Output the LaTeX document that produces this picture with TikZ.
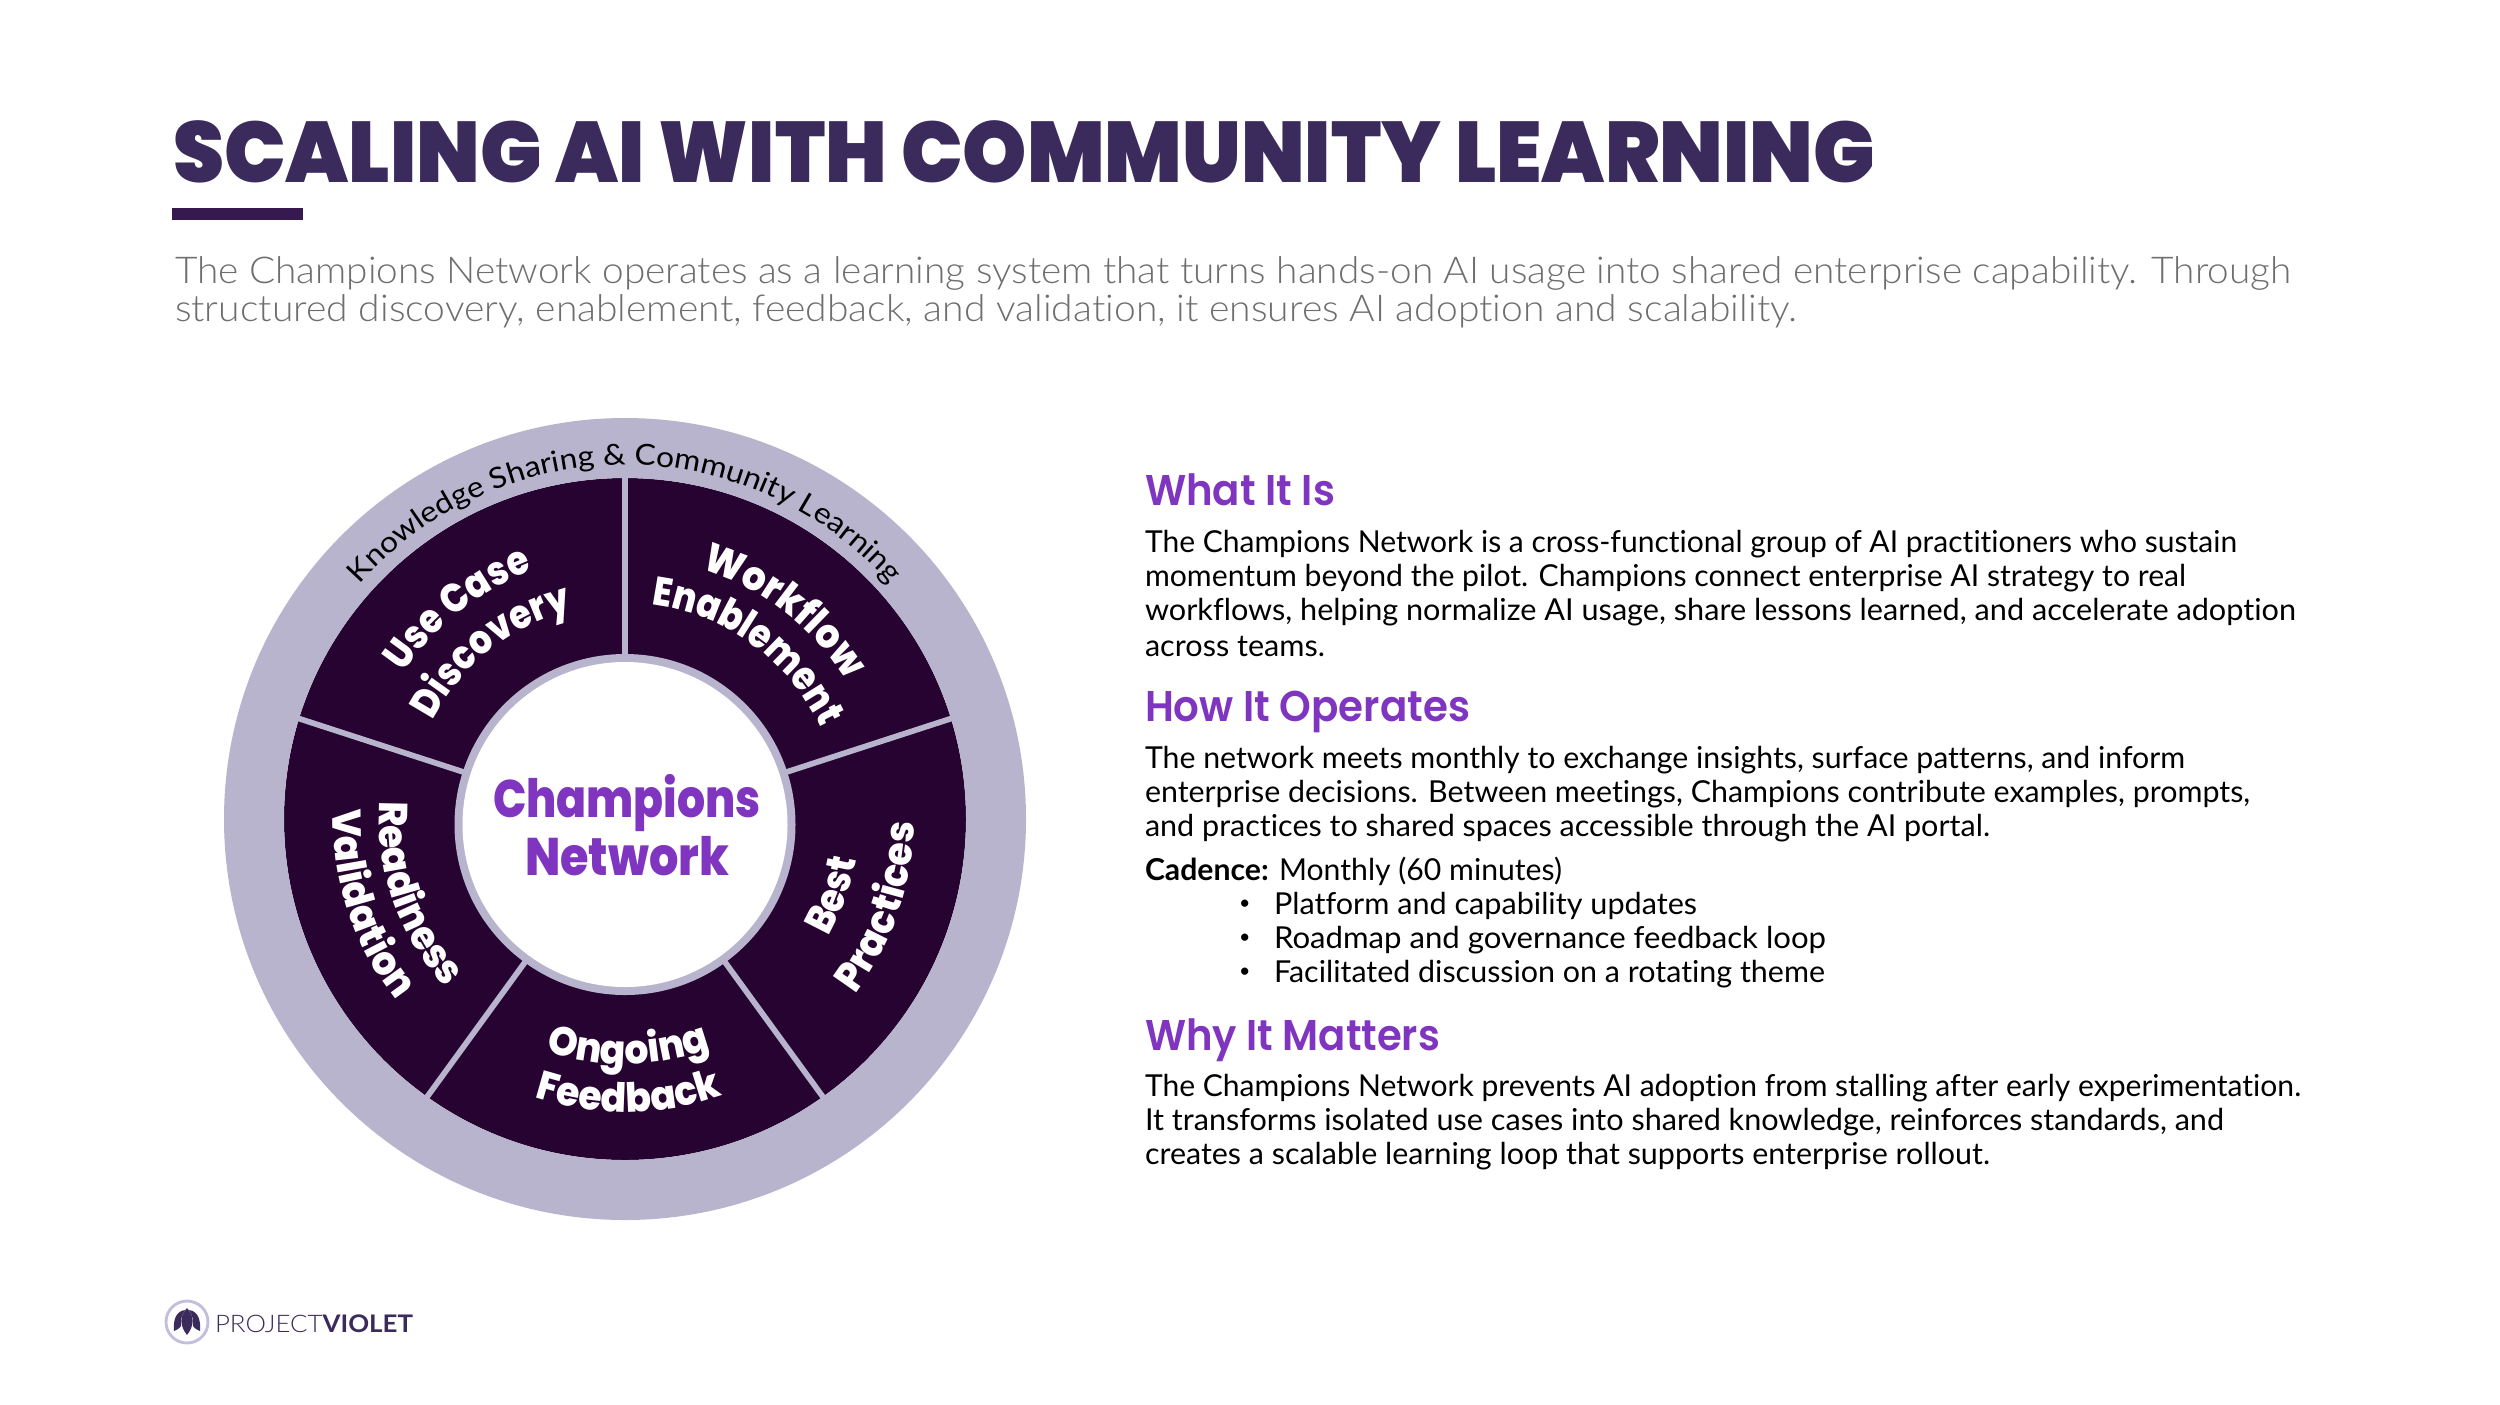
\documentclass[tikz,border=0pt]{standalone}
\usepackage{fontspec}
\usepackage{graphicx}
\usetikzlibrary{decorations.text}
\setmainfont[Ligatures=NoCommon]{Lato}
\newfontfamily\titlefont{Poppins Black}
\newfontfamily\centerfont{Poppins ExtraBold}
\newfontfamily\headfont{Poppins SemiBold}
\newfontfamily\lightfont[Ligatures=NoCommon]{Lato Light}
\newfontfamily\wheelfont{Poppins ExtraBold}
\newfontfamily\capfont[FakeStretch=1.1,Ligatures=NoCommon]{Lato}
\definecolor{titlec}{HTML}{3B2A5C}
\definecolor{barc}{HTML}{35194F}
\definecolor{ringc}{HTML}{B8B4CD}
\definecolor{darkc}{HTML}{260330}
\definecolor{purp}{HTML}{7F35BF}
\definecolor{greyc}{HTML}{6E6E6E}
\definecolor{logoc}{HTML}{C3BEDD}
\newsavebox{\fitbox}
\newcommand{\fitw}[2]{\sbox{\fitbox}{#2}\pgfmathsetmacro{\fitr}{#1*0.384/(\wd\fitbox/1pt)}\scalebox{\fitr}[1]{\usebox{\fitbox}}}
\newcommand{\wl}[1]{\wheelfont\fontsize{15.5}{17}\selectfont\addfontfeature{FakeStretch=#1}\color{white}}
\tikzset{
  line/.style={inner sep=0pt,outer sep=0pt,anchor=base west},
  wheeltext/.style={decorate,decoration={text along path,text align=center,text={#1}}},
}
\begin{document}
\begin{tikzpicture}[x=0.384pt,y=0.384pt]
\useasboundingbox (0,0) rectangle (2500,-1404);
\fill[white] (0,0) rectangle (2500,-1404);
% title
\node[line,text=titlec] (title) at (173,-182) {\fitw{1702}{\titlefont\fontsize{33}{38}\selectfont SCALING AI WITH COMMUNITY LEARNING}};
\fill[barc] (172,-208) rectangle (303,-220);
\node[line,text=greyc] (sub1) at (175,-283) {\fitw{2116}{\lightfont\fontsize{14.2}{17}\selectfont The Champions Network operates as a learning system that turns hands-on AI usage into shared enterprise capability. Through}};
\node[line,text=greyc] (sub2) at (175,-321) {\fitw{1622}{\lightfont\fontsize{14.2}{17}\selectfont structured discovery, enablement, feedback, and validation, it ensures AI adoption and scalability.}};
% wheel
\coordinate (c) at (625,-819);
\coordinate (ci) at (625,-824.5);
\fill[darkc] (c) circle[radius=341];
\foreach \a in {90,18,-54,-126,162}
  \draw[ringc,line width=2.2pt] (ci) -- ++(\a:356);
\path[even odd rule,fill=ringc] (c) circle[radius=401] (c) circle[radius=341];
\fill[ringc] (ci) circle[radius=170.5];
\fill[white] (ci) circle[radius=162.5];
\node[line,anchor=base,text=purp] (center1) at (627,-817) {\fitw{268}{\centerfont\fontsize{20.3}{24}\selectfont Champions}};
\node[line,anchor=base,text=purp] (center2) at (627,-875) {\fitw{204}{\centerfont\fontsize{20.3}{24}\selectfont Network}};
% ring caption
\path[wheeltext={|\capfont\fontsize{11.1}{13}\selectfont|Knowledge Sharing {\&} Community Learning}] (c) ++(150:354) arc[start angle=150,end angle=30,radius=354];
% labels
\path[wheeltext={|\wl{.88}|Use Case}] (c) ++(178.5:265) arc[start angle=178.5,end angle=78.5,radius=265];
\path[wheeltext={|\wl{.87}|Discovery}] (c) ++(188.5:216) arc[start angle=188.5,end angle=68.5,radius=216];
\path[wheeltext={|\wl{.925}|Workflow}] (c) ++(102.6:261) arc[start angle=102.6,end angle=2.6,radius=261];
\path[wheeltext={|\wl{.86}|Enablement}] (c) ++(114:216) arc[start angle=114,end angle=-6,radius=216];
\path[wheeltext={|\wl{.89}|Best}] (c) ++(-70:235) arc[start angle=-70,end angle=30,radius=235];
\path[wheeltext={|\wl{.935}|Practices}] (c) ++(-69:289) arc[start angle=-69,end angle=31,radius=289];
\path[wheeltext={|\wl{.935}|Ongoing}] (c) ++(-139.2:245) arc[start angle=-139.2,end angle=-39.2,radius=245];
\path[wheeltext={|\wl{.935}|Feedback}] (c) ++(-139.2:293) arc[start angle=-139.2,end angle=-39.2,radius=293];
\path[wheeltext={|\wl{.935}|Readiness}] (c) ++(149.6:246) arc[start angle=149.6,end angle=249.6,radius=246];
\path[wheeltext={|\wl{.935}|Validation}] (c) ++(148.3:292) arc[start angle=148.3,end angle=248.3,radius=292];
% right
\newcommand{\hd}{\color{purp}\headfont\fontsize{16.5}{19}\selectfont}
\newcommand{\bd}{\fontsize{11.6}{14}\selectfont}
\node[line] (h1) at (1145,-505.5) {\fitw{190}{\hd What It Is}};
\node[line] (b1) at (1145,-552) {\fitw{1092}{\bd The Champions Network is a cross-functional group of AI practitioners who sustain}};
\node[line] (b2) at (1145,-586) {\fitw{1041}{\bd momentum beyond the pilot. Champions connect enterprise AI strategy to real}};
\node[line] (b3) at (1145,-620) {\fitw{1151}{\bd workflows, helping normalize AI usage, share lessons learned, and accelerate adoption}};
\node[line] (b4) at (1145,-656) {\fitw{180}{\bd across teams.}};
\node[line] (h2) at (1145,-721.5) {\fitw{325}{\hd How It Operates}};
\node[line] (b5) at (1145,-768) {\fitw{1040}{\bd The network meets monthly to exchange insights, surface patterns, and inform}};
\node[line] (b6) at (1145,-802) {\fitw{1105}{\bd enterprise decisions. Between meetings, Champions contribute examples, prompts,}};
\node[line] (b7) at (1145,-836) {\fitw{845}{\bd and practices to shared spaces accessible through the AI portal.}};
\node[line] (b8) at (1145,-880) {\fitw{417}{\bd\textbf{Cadence:} Monthly (60 minutes)}};
\node[line] (d1) at (1239,-909) {\fontsize{7.5}{9}\selectfont •};
\node[line] (l1) at (1274,-914) {\fitw{423}{\bd Platform and capability updates}};
\node[line] (d2) at (1239,-943) {\fontsize{7.5}{9}\selectfont •};
\node[line] (l2) at (1274,-948) {\fitw{552}{\bd Roadmap and governance feedback loop}};
\node[line] (d3) at (1239,-977) {\fontsize{7.5}{9}\selectfont •};
\node[line] (l3) at (1274,-982) {\fitw{551}{\bd Facilitated discussion on a rotating theme}};
\node[line] (h3) at (1145,-1050) {\fitw{295}{\hd Why It Matters}};
\node[line] (b9) at (1145,-1096) {\fitw{1156}{\bd The Champions Network prevents AI adoption from stalling after early experimentation.}};
\node[line] (b10) at (1145,-1130) {\fitw{1079}{\bd It transforms isolated use cases into shared knowledge, reinforces standards, and}};
\node[line] (b11) at (1145,-1164) {\fitw{845}{\bd creates a scalable learning loop that supports enterprise rollout.}};
% logo
\coordinate (lg) at (187,-1322);
\draw[logoc,line width=1.1pt] (lg) circle[radius=21];
\fill[titlec] (187,-1308) .. controls (179,-1317) and (180,-1326) .. (187,-1335) .. controls (194,-1326) and (195,-1317) .. (187,-1308) -- cycle;
\fill[titlec] (185,-1310) .. controls (176,-1311) and (173,-1320) .. (174,-1331) .. controls (176,-1330) and (179,-1329) .. (181,-1326) .. controls (180,-1320) and (182,-1315) .. (185,-1310) -- cycle;
\fill[titlec] (189,-1310) .. controls (198,-1311) and (201,-1320) .. (200,-1331) .. controls (198,-1330) and (195,-1329) .. (193,-1326) .. controls (194,-1320) and (192,-1315) .. (189,-1310) -- cycle;
\node[line,text=titlec] (logo) at (215,-1332) {\fitw{198}{\fontsize{9.3}{11}\selectfont{\lightfont PROJECT}\textbf{VIOLET}}};
\end{tikzpicture}
\end{document}
